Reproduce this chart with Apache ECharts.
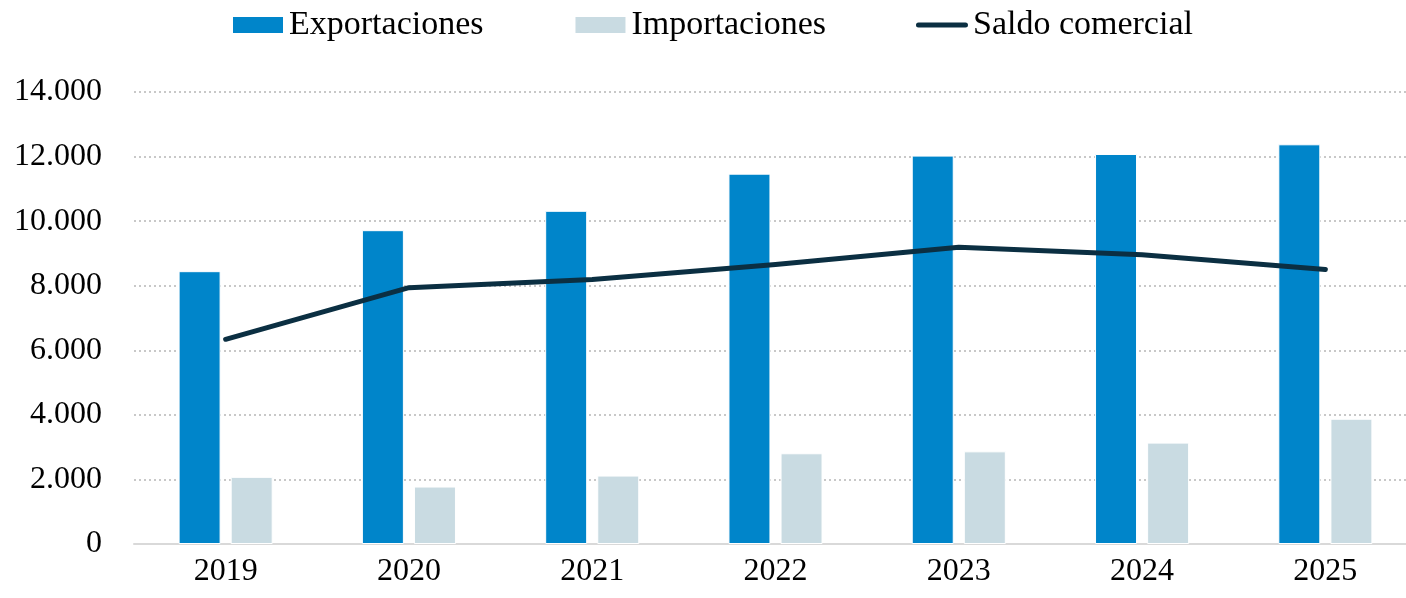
<!DOCTYPE html>
<html>
<head>
<meta charset="utf-8">
<script src="https://cdn.jsdelivr.net/npm/echarts@6/dist/echarts.min.js"></script>
<style>
  html, body { margin: 0; padding: 0; background: #fff; }
  #chart { width: 1406px; height: 598px; }
</style>
</head>
<body>
<div id="chart"></div>
<script>
// datos
var years = ['2019', '2020', '2021', '2022', '2023', '2024', '2025']
var exportaciones = [8450, 9720, 10320, 11470, 12030, 12080, 12380]
var importaciones = [2080, 1780, 2120, 2810, 2870, 3140, 3880]
var saldoComercial = [6340, 7940, 8190, 8660, 9190, 8960, 8500]
var yTicks = [0, 2000, 4000, 6000, 8000, 10000, 12000, 14000]

var font = '"Liberation Serif", serif'
var lineIcon = 'path://M2.5,0 L49.5,0 A2.5,2.5 0 0 1 49.5,5 L2.5,5 A2.5,2.5 0 0 1 2.5,0 Z'

function fmtMiles(v) {
  return String(v).replace(/\B(?=(\d{3})+(?!\d))/g, '.')
}

var chart = echarts.init(document.getElementById('chart'), null, { renderer: 'canvas' })

chart.setOption({
  animation: false,
  textStyle: { fontFamily: font },
  legend: {
    top: 8,
    left: 231,
    padding: 0,
    itemWidth: 52,
    itemHeight: 18,
    itemGap: 90,
    textStyle: { fontFamily: font, fontSize: 34, color: '#000' },
    data: [
      { name: 'Exportaciones', icon: 'rect' },
      { name: 'Importaciones', icon: 'rect' },
      { name: 'Saldo comercial', icon: lineIcon }
    ]
  },
  grid: {
    left: 134,
    top: 92,
    width: 1283,
    bottom: 54,
    outerBoundsMode: 'none'
  },
  xAxis: {
    type: 'category',
    data: years,
    axisTick: { show: false },
    axisLine: { lineStyle: { color: '#d9d9d9', width: 2 } },
    axisLabel: { fontFamily: font, fontSize: 32, color: '#000', margin: 12 }
  },
  yAxis: {
    type: 'value',
    min: yTicks[0],
    max: yTicks[yTicks.length - 1],
    interval: 2000,
    axisLine: { show: false },
    axisTick: { show: false },
    splitLine: { lineStyle: { color: '#c8c8c8', type: [2, 3], width: 2 } },
    axisLabel: {
      fontFamily: font,
      fontSize: 32,
      color: '#000',
      margin: 32,
      formatter: fmtMiles
    }
  },
  series: [
    {
      name: 'Exportaciones',
      type: 'bar',
      data: exportaciones,
      barWidth: 42,
      barGap: '24%',
      itemStyle: { color: '#0085ca', borderColor: '#ffffff', borderWidth: 1 }
    },
    {
      name: 'Importaciones',
      type: 'bar',
      data: importaciones,
      barWidth: 42,
      barGap: '24%',
      itemStyle: { color: '#c9dbe2', borderColor: '#ffffff', borderWidth: 1 }
    },
    {
      name: 'Saldo comercial',
      type: 'line',
      data: saldoComercial,
      symbol: 'none',
      lineStyle: { color: '#0b2f42', width: 5, cap: 'round', join: 'round' },
      itemStyle: { color: '#0b2f42' }
    }
  ]
})
</script>
</body>
</html>
